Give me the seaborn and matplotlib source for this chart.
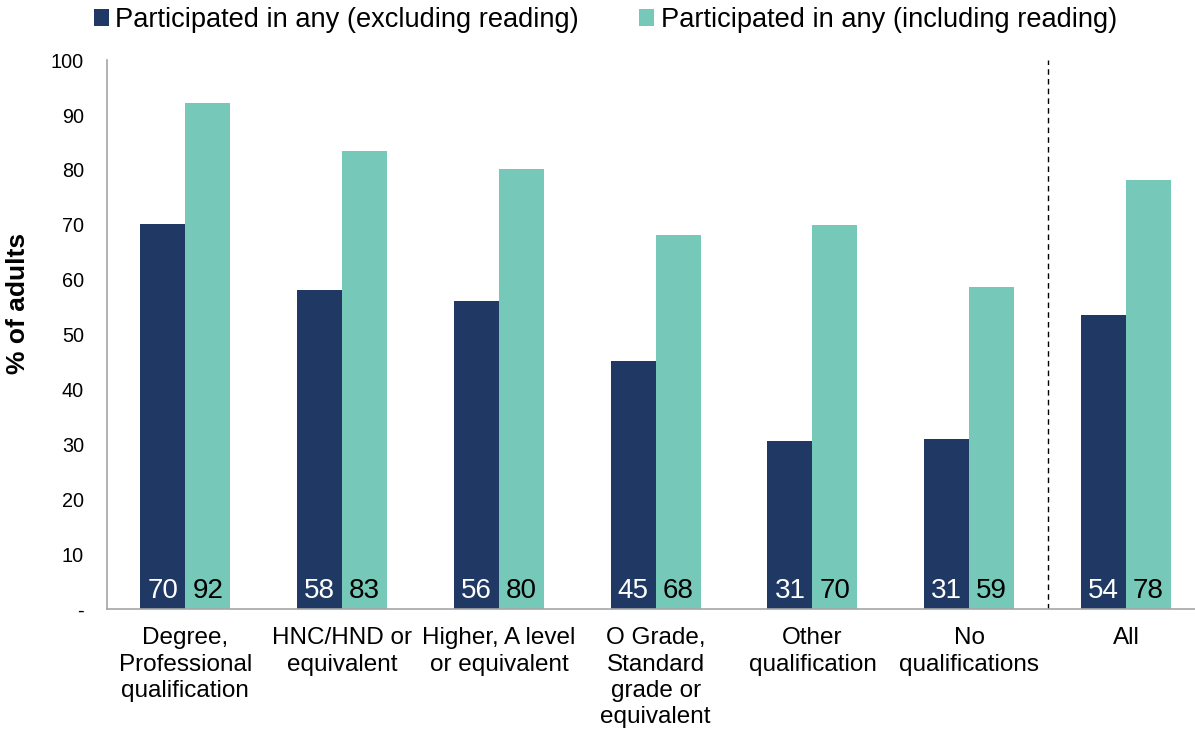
import matplotlib
matplotlib.use("Agg")
import matplotlib.pyplot as plt
import pandas as pd
import seaborn as sns

categories = [
    "Degree,\nProfessional\nqualification",
    "HNC/HND or\nequivalent",
    "Higher, A level\nor equivalent",
    "O Grade,\nStandard\ngrade or\nequivalent",
    "Other\nqualification",
    "No\nqualifications",
    "All",
]
series = [
    "Participated in any (excluding reading)",
    "Participated in any (including reading)",
]
excluding_reading = [70.2, 58.1, 56.2, 45.2, 30.6, 31.0, 53.6]
including_reading = [92.1, 83.4, 80.2, 68.1, 69.9, 58.6, 78.1]
yticks = [0, 10, 20, 30, 40, 50, 60, 70, 80, 90, 100]
ytick_labels = ["-"] + [str(t) for t in yticks[1:]]


def main() -> None:
    sns.set_theme(style="white", rc={
        "text.color": "black", "axes.labelcolor": "black",
        "xtick.color": "black", "ytick.color": "black",
    })
    plt.rcParams["font.family"] = ["Liberation Sans", "DejaVu Sans"]

    df = pd.DataFrame({
        "category": categories * 2,
        "series": [series[0]] * len(categories) + [series[1]] * len(categories),
        "value": excluding_reading + including_reading,
    })

    colors = {series[0]: "#1F3864", series[1]: "#76C8B9"}

    fig = plt.figure(figsize=(11.95, 7.33), dpi=100)
    ax = fig.add_axes([0.0895, 0.169, 0.9105, 0.749])

    sns.barplot(data=df, x="category", y="value", hue="series", order=categories,
                hue_order=series, palette=colors, width=0.574, saturation=1,
                linewidth=0, ax=ax, legend=True)

    # value labels at the bottom of each bar
    for container, txt_color in zip(ax.containers, ["white", "black"]):
        for patch in container:
            ax.text(patch.get_x() + patch.get_width() / 2, 1.0,
                    f"{patch.get_height():.0f}", ha="center", va="bottom",
                    color=txt_color, fontsize=20)

    ax.axvline(5.5, color="black", linestyle=(0, (4, 3)), linewidth=1)

    ax.set_xlim(-0.5, 6.44)
    ax.set_ylim(0, 100)
    ax.set_yticks(yticks)
    ax.set_yticklabels(ytick_labels)
    ax.set_xlabel("")
    ax.set_ylabel("% of adults", fontsize=19, fontweight="bold")
    ax.yaxis.set_label_coords(-0.071, 0.556)
    ax.tick_params(axis="y", labelsize=14.3, length=0, pad=16.5)
    ax.tick_params(axis="x", labelsize=17.5, length=0, pad=13)
    for lbl in ax.get_xticklabels():
        lbl.set_linespacing(1.26)

    sns.despine(ax=ax, top=True, right=True)
    for side in ["left", "bottom"]:
        ax.spines[side].set_color("#A6A6A6")
        ax.spines[side].set_linewidth(1.2)

    handles, labels = ax.get_legend_handles_labels()
    ax.legend(handles, labels, loc="center", bbox_to_anchor=(0.458, 1.073),
              ncol=2, frameon=False, fontsize=19.6, handlelength=0.55,
              handleheight=0.55, handletextpad=0.25, columnspacing=2.2,
              borderaxespad=0, borderpad=0)

    fig.savefig("out.png", dpi=100)
    plt.close(fig)


if __name__ == "__main__":
    main()
